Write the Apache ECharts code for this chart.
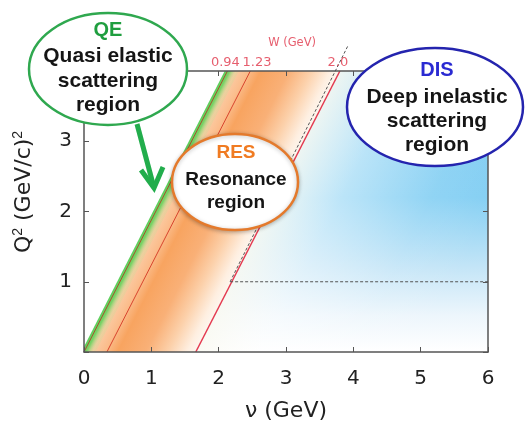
<!DOCTYPE html>
<html>
  <head>
    <meta charset="utf-8">
    <title>Q2 vs nu regions</title>
    <style>
      html, body { margin: 0; padding: 0; background: #fff; }
      #main { width: 528px; height: 421px; }
    </style>
    <script src="https://cdn.jsdelivr.net/npm/echarts@6/dist/echarts.min.js"></script>
  </head>
  <body>
    <div id="main"></div>
    <script type="text/javascript">

      // constant-W lines: nu where each line meets Q2 = 0 and Q2 = 4
      var wLabels = ['0.94', '1.23', '2.0'];
      var nuAtQ0 = [0.00, 0.34, 1.66];
      var nuAtQ4 = [2.13, 2.47, 3.80];
      var wLabelNu = [2.10, 2.57, 3.77];

      // dashed guide lines (nu, Q2)
      var guideW2 = [[2.17, 1], [3.92, 4.36]];
      var guideQ1 = [[2.17, 1], [6.13, 1]];

      var nuMax = 6;
      var q2Max = 4;

      var fontNum = '"DejaVu Sans", Verdana, sans-serif';
      var fontBox = '"Liberation Sans", Arial, sans-serif';

      var myChart = echarts.init(document.getElementById('main'));

      // unit normal (pointing right/down) of a line through two pixel points
      function frame(a, b) {
        var dx = b[0] - a[0], dy = b[1] - a[1];
        var len = Math.sqrt(dx * dx + dy * dy);
        return [-dy / len, dx / len];
      }

      function grad(p, n, dist, stops) {
        return new echarts.graphic.LinearGradient(
          p[0], p[1], p[0] + n[0] * dist, p[1] + n[1] * dist, stops, true);
      }

      function renderRegion(params, api) {
        var i = params.dataIndex;
        var q0 = api.coord([nuAtQ0[0], 0]);
        var q4 = api.coord([nuAtQ4[0], q2Max]);
        var n = frame(q0, q4);
        var w0 = api.coord([nuAtQ0[2], 0]);
        var w4 = api.coord([nuAtQ4[2], q2Max]);
        var r0 = api.coord([nuMax, 0]);
        var r4 = api.coord([nuMax, q2Max]);
        var pts, fill;

        if (i === 0) {
          // DIS: blue, fading towards the bottom
          pts = [w0, w4, r4, r0];
          fill = new echarts.graphic.LinearGradient(0, r4[1], 0, r0[1], [
            { offset: 0, color: '#7ccbf1' },
            { offset: 0.45, color: '#84cff3' },
            { offset: 0.7, color: '#c4e5f7' },
            { offset: 0.87, color: '#edf6fc' },
            { offset: 1, color: '#ffffff' }
          ], true);
        } else if (i === 1) {
          // DIS: whitish near the W = 2 line
          pts = [w0, w4, r4, r0];
          fill = grad(w0, n, 200, [
            { offset: 0, color: 'rgba(250,250,242,0.9)' },
            { offset: 0.3, color: 'rgba(255,255,255,0.45)' },
            { offset: 0.7, color: 'rgba(255,255,255,0.1)' },
            { offset: 1, color: 'rgba(255,255,255,0)' }
          ]);
        } else if (i === 2) {
          // RES: orange band
          var d = (w0[0] - q0[0]) * n[0] + (w0[1] - q0[1]) * n[1];
          pts = [q0, q4, w4, w0];
          fill = grad(q0, n, d, [
            { offset: 0, color: '#fcd3b0' },
            { offset: 0.18, color: '#fbbd8c' },
            { offset: 0.3, color: '#f8a460' },
            { offset: 0.55, color: '#f9b077' },
            { offset: 0.75, color: '#fcd1ab' },
            { offset: 0.92, color: '#feefe1' },
            { offset: 1, color: '#fdf6ee' }
          ]);
        } else {
          // QE: thin green band
          var a0 = api.coord([nuAtQ0[0] - 0.04, 0]);
          var a4 = api.coord([nuAtQ4[0] - 0.04, q2Max]);
          var b0 = api.coord([nuAtQ0[0] + 0.17, 0]);
          var b4 = api.coord([nuAtQ4[0] + 0.17, q2Max]);
          pts = [a0, a4, b4, b0];
          fill = grad(a0, n, 10, [
            { offset: 0, color: 'rgba(70,200,70,0.9)' },
            { offset: 0.45, color: 'rgba(100,210,90,0.85)' },
            { offset: 1, color: 'rgba(190,225,150,0.25)' }
          ]);
        }
        return { type: 'polygon', shape: { points: pts }, style: { fill: fill } };
      }

      var wColors = ['#a9512c', '#d8452f', '#e43a50'];
      var lineSeries = wLabels.map(function (w, k) {
        return {
          name: 'W = ' + w,
          type: 'line',
          data: [[nuAtQ0[k], 0], [nuAtQ4[k], q2Max]],
          symbol: 'none',
          z: 4,
          lineStyle: { color: wColors[k], width: k === 2 ? 1.5 : 1 }
        };
      });

      var topLabels = wLabels.map(function (w, k) {
        return { value: [wLabelNu[k], q2Max], name: w };
      });
      topLabels.push({ value: [3.09, 4.29], name: 'W (GeV)', label: { fontSize: 11.5 } });

      var axisLine = { show: true, onZero: false, lineStyle: { color: '#555', width: 1.5 } };
      var axisTick = { show: true, inside: true, length: 5, lineStyle: { color: '#555' } };

      var option = {
        animation: false,
        grid: { left: 84, right: 40, top: 71, bottom: 69, outerBoundsMode: 'none', containLabel: false },
        xAxis: [{
          type: 'value', min: 0, max: nuMax, interval: 1, z: 10,
          name: 'ν (GeV)', nameLocation: 'middle', nameGap: 48,
          nameTextStyle: { fontSize: 22, color: '#222', fontFamily: fontNum },
          axisLine: axisLine,
          axisTick: axisTick,
          axisLabel: { fontSize: 20, color: '#222', margin: 17, fontFamily: fontNum },
          splitLine: { show: false }
        }, {
          type: 'value', min: 0, max: nuMax, interval: 1, position: 'top', z: 10,
          axisLine: axisLine,
          axisTick: axisTick,
          axisLabel: { show: false },
          splitLine: { show: false }
        }],
        yAxis: [{
          type: 'value', min: 0, max: q2Max, interval: 1, z: 10,
          axisLine: axisLine,
          axisTick: axisTick,
          axisLabel: {
            fontSize: 20, color: '#222', margin: 12, fontFamily: fontNum,
            formatter: function (v) { return (v === 0 || v === q2Max) ? '' : v; }
          },
          splitLine: { show: false }
        }, {
          type: 'value', min: 0, max: q2Max, interval: 1, position: 'right', z: 10,
          axisLine: axisLine,
          axisTick: axisTick,
          axisLabel: { show: false },
          splitLine: { show: false }
        }],
        series: [{
          name: 'regions',
          type: 'custom',
          renderItem: renderRegion,
          data: [[0, 0], [1, 0], [2, 0], [3, 0]],
          clip: true,
          silent: true,
          z: 1
        }].concat(lineSeries).concat([{
          name: 'guide W2',
          type: 'line',
          data: guideW2,
          symbol: 'none',
          clip: false,
          z: 5,
          lineStyle: { color: '#555', width: 1, type: [3, 2] }
        }, {
          name: 'guide Q1',
          type: 'line',
          data: guideQ1,
          symbol: 'none',
          clip: false,
          z: 5,
          lineStyle: { color: '#555', width: 1, type: [3, 2] }
        }, {
          name: 'W labels',
          type: 'scatter',
          data: topLabels,
          symbolSize: 0,
          clip: false,
          z: 6,
          label: {
            show: true, position: 'top', distance: 2,
            color: '#e0364a', fontSize: 13, fontFamily: fontNum,
            formatter: function (p) { return p.name; }
          }
        }]),
        graphic: [
          // y axis title
          {
            type: 'text', x: 24, y: 192, rotation: Math.PI / 2, z: 50,
            style: {
              text: 'Q{s|2} (GeV/c){s|2}',
              fill: '#222', font: '22px ' + fontNum,
              align: 'center', verticalAlign: 'middle',
              rich: { s: { fontSize: 14, verticalAlign: 'top', padding: [0, 0, 12, 0], fill: '#222' } }
            }
          },
          // QE bubble
          {
            type: 'ellipse', z: 100,
            shape: { cx: 108, cy: 69, rx: 79, ry: 56 },
            style: { fill: '#fff', stroke: '#2fa84f', lineWidth: 2.5 }
          },
          { type: 'text', x: 108, y: 30, z: 101,
            style: { text: 'QE', fill: '#1f9e3f', font: 'bold 20px ' + fontBox, align: 'center', verticalAlign: 'middle' } },
          { type: 'text', x: 108, y: 81, z: 101,
            style: { text: 'Quasi elastic\nscattering\nregion', fill: '#151515', font: 'bold 21px ' + fontBox,
              lineHeight: 24.5, align: 'center', verticalAlign: 'middle' } },
          // QE arrow
          { type: 'polyline', z: 99,
            shape: { points: [[137, 124], [153, 184]] },
            style: { stroke: '#22ad4c', lineWidth: 5, fill: null } },
          { type: 'polyline', z: 99,
            shape: { points: [[141, 170], [154, 188], [163, 167]] },
            style: { stroke: '#22ad4c', lineWidth: 5, fill: null, lineJoin: 'miter' } },
          // RES bubble
          {
            type: 'ellipse', z: 100,
            shape: { cx: 235, cy: 182, rx: 63, ry: 48 },
            style: { fill: '#fff', stroke: '#e47a2c', lineWidth: 2.5,
              shadowBlur: 4, shadowColor: 'rgba(0,0,0,0.25)', shadowOffsetY: 1 }
          },
          { type: 'text', x: 236, y: 153, z: 101,
            style: { text: 'RES', fill: '#f07b22', font: 'bold 19px ' + fontBox, align: 'center', verticalAlign: 'middle' } },
          { type: 'text', x: 236, y: 191.5, z: 101,
            style: { text: 'Resonance\nregion', fill: '#151515', font: 'bold 19px ' + fontBox,
              lineHeight: 23, align: 'center', verticalAlign: 'middle' } },
          // DIS bubble
          {
            type: 'ellipse', z: 100,
            shape: { cx: 435, cy: 107, rx: 88, ry: 59 },
            style: { fill: '#fff', stroke: '#2424ae', lineWidth: 2.5 }
          },
          { type: 'text', x: 437, y: 70, z: 101,
            style: { text: 'DIS', fill: '#2a2ad2', font: 'bold 20px ' + fontBox, align: 'center', verticalAlign: 'middle' } },
          { type: 'text', x: 437, y: 121, z: 101,
            style: { text: 'Deep inelastic\nscattering\nregion', fill: '#151515', font: 'bold 21px ' + fontBox,
              lineHeight: 24, align: 'center', verticalAlign: 'middle' } }
        ]
      };

      myChart.setOption(option);
    </script>
  </body>
</html>
